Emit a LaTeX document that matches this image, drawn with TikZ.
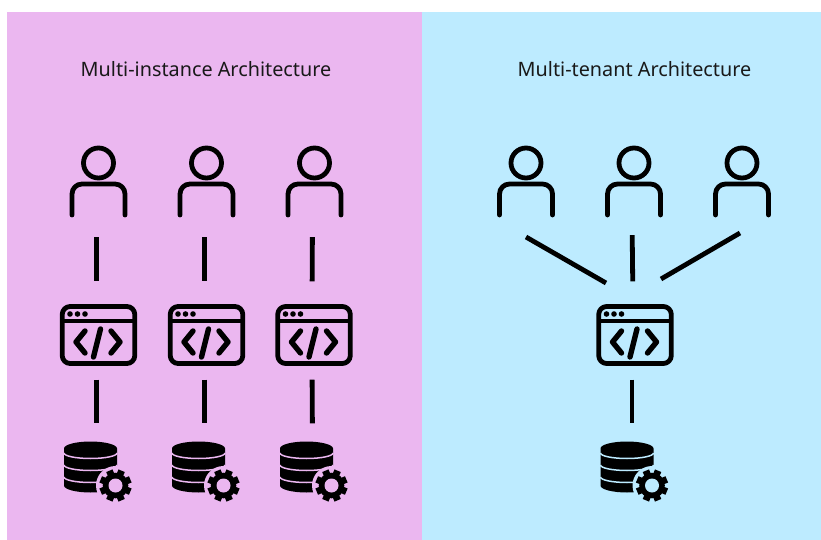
\documentclass[tikz,border=0pt]{standalone}
\usepackage{fontspec}
\setmainfont{Noto Sans}
\definecolor{pinkbg}{HTML}{EBB7F0}
\definecolor{bluebg}{HTML}{BDEBFF}
\tikzset{
  x=1pt,y=-1pt,
  panel/.style={draw=none,fill=#1,minimum width=0pt,inner sep=0pt},
  title/.style={font=\fontsize{19.8}{22}\selectfont,text=black!90,inner sep=0pt,anchor=center},
  anchorbox/.style={inner sep=0pt,draw=none},
  userbox/.style={anchorbox,minimum width=58pt,minimum height=70pt},
  winbox/.style={anchorbox,minimum width=77pt,minimum height=61pt},
  dbbox/.style={anchorbox,minimum width=68pt,minimum height=60pt},
  link/.style={line width=4.8pt,black},
  iconline/.style={line width=4.8pt,black,line cap=round,line join=round},
  pics/usericon/.style={code={
    \draw[iconline] (0,-20) circle[radius=15];
    \draw[iconline,rounded corners=10pt] (-26.5,32) -- (-26.5,1) -- (26.5,1) -- (26.5,32);
  }},
  pics/winicon/.style={code={
    \draw[iconline,rounded corners=8pt] (-36.3,-28.5) rectangle (36.3,28.5);
    \draw[iconline,line cap=butt] (-36.3,-14) -- (36.3,-14);
    \foreach \dx in {-28.5,-21,-13.5}{\fill[black] (\dx,-21) circle[radius=2.8];}
    \draw[iconline,line width=5.4pt] (-13.5,-4) -- (-22.5,7) -- (-13.5,18);
    \draw[iconline,line width=5.4pt] (12.5,-4) -- (21.5,7) -- (12.5,18);
    \draw[iconline,line width=5.4pt] (2,-6) -- (-5,22);
  }},
  pics/dbicon/.style={code={
    \fill[black] (-26.5,-22) -- (-26.5,15) arc[start angle=180,end angle=0,x radius=26.5,y radius=7] -- (26.5,-22) arc[start angle=0,end angle=-180,x radius=26.5,y radius=7] -- cycle;
    \foreach \yy in {-17.5,-5.5,6.5}{
      \draw[#1,line width=1.5pt] (-26.5,\yy) arc[start angle=180,end angle=0,x radius=26.5,y radius=5.5];
    }
    \fill[#1] (25,15) circle[radius=19.5];
    \begin{scope}[shift={(25,15)}]
      \foreach \a in {0,45,...,315}{
        \fill[black,rotate=\a+22.5] (-3.4,-16) rectangle (3.4,-9);
      }
      \fill[black] (0,0) circle[radius=12.8];
      \fill[#1] (0,0) circle[radius=7];
    \end{scope}
  }},
}
\begin{document}
\begin{tikzpicture}
\useasboundingbox (0,0) rectangle (821,540);
\fill[white] (0,0) rectangle (821,540);
\node[panel=pinkbg,minimum width=415pt,minimum height=528pt] (pL) at (214.5,276) {};
\node[panel=bluebg,minimum width=399pt,minimum height=528pt] (pR) at (621.5,276) {};
\node[title] (tL) at (206,69) {Multi-instance Architecture};
\node[title] (tR) at (634.5,69) {Multi-tenant Architecture};
% left column stacks
\foreach \n/\ux/\wx/\dx in {1/98.5/98.5/98.5,2/206.5/206.5/206.5,3/314.5/314/314.5}{
  \node[userbox] (u\n) at (\ux,183) {};
  \pic at (u\n) {usericon};
  \node[winbox] (w\n) at (\wx,335) {};
  \pic at (w\n) {winicon};
  \node[dbbox] (d\n) at (\dx,470.5) {};
  \pic at ([xshift=-8pt]d\n.center) {dbicon=pinkbg};
  \draw[link,shorten <=19pt,shorten >=23pt] ([xshift=-2pt]u\n.south) -- ([xshift=-2pt]w\n.north);
  \draw[link,shorten <=14pt,shorten >=17pt] ([xshift=-2pt]w\n.south) -- ([xshift=-2pt]d\n.north);
}
% right stack
\node[userbox] (u4) at (526,183) {};
\node[userbox] (u5) at (634,183) {};
\node[userbox] (u6) at (742,183) {};
\pic at (u4) {usericon};
\pic at (u5) {usericon};
\pic at (u6) {usericon};
\node[winbox] (w4) at (635,335) {};
\pic at (w4) {winicon};
\node[dbbox] (d4) at (635,470.5) {};
\pic at ([xshift=-8pt]d4.center) {dbicon=bluebg};
\coordinate (a4) at (526,237);
\coordinate (b4) at (606,283);
\coordinate (a6) at (740,233);
\coordinate (b6) at (661,279);
\draw[link] (a4) -- (b4);
\draw[link,shorten <=17pt,shorten >=23pt] ([xshift=-2pt]u5.south) -- ([xshift=-2pt]w4.north);
\draw[link] (a6) -- (b6);
\draw[link,shorten <=14pt,shorten >=17pt] ([xshift=-3pt]w4.south) -- ([xshift=-3pt]d4.north);
\end{tikzpicture}
\end{document}
